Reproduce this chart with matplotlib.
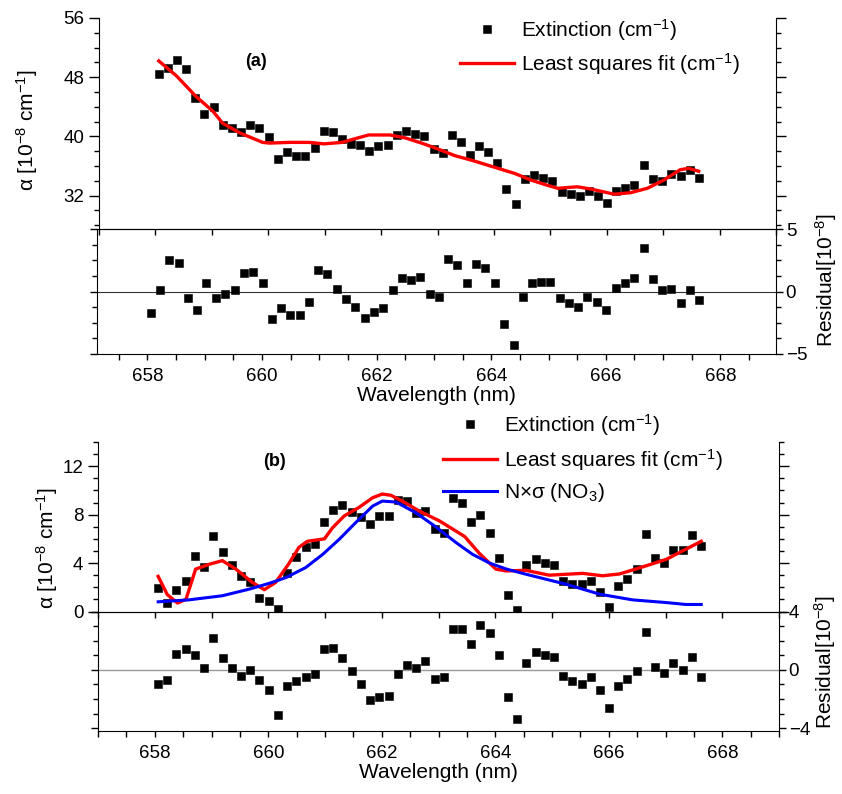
import matplotlib
matplotlib.use('Agg')
import matplotlib.pyplot as plt
from matplotlib.ticker import MultipleLocator

plt.rcParams['font.family'] = ['Liberation Sans', 'DejaVu Sans']
plt.rcParams['mathtext.fontset'] = 'custom'
plt.rcParams['mathtext.rm'] = 'Liberation Sans'
plt.rcParams['mathtext.it'] = 'Liberation Sans:italic'
plt.rcParams['mathtext.bf'] = 'Liberation Sans:bold'

# wavelength grid of the measured points (nm)
wl = [658.06, 658.22, 658.38, 658.55, 658.71, 658.87, 659.03, 659.20, 659.36, 659.52,
      659.68, 659.84, 660.01, 660.17, 660.33, 660.49, 660.66, 660.82, 660.98, 661.14,
      661.30, 661.47, 661.63, 661.79, 661.95, 662.12, 662.28, 662.44, 662.60, 662.76,
      662.93, 663.09, 663.25, 663.41, 663.57, 663.74, 663.90, 664.06, 664.22, 664.39,
      664.55, 664.71, 664.87, 665.03, 665.20, 665.36, 665.52, 665.68, 665.85, 666.01,
      666.17, 666.33, 666.49, 666.66, 666.82, 666.98, 667.14, 667.31, 667.47, 667.63]

# (a)
ext_a = [48.5, 49.2, 50.3, 49.1, 45.2, 43.1, 44.0, 41.6, 41.1, 40.6,
         41.6, 41.1, 39.9, 37.0, 37.9, 37.4, 37.4, 38.4, 40.8, 40.6,
         39.6, 39.0, 38.8, 38.1, 38.7, 38.9, 40.2, 40.8, 40.3, 40.0,
         38.3, 37.7, 40.2, 39.2, 37.5, 38.7, 37.9, 36.4, 32.9, 30.9,
         34.2, 34.8, 34.4, 34.0, 32.5, 32.2, 32.0, 32.7, 32.0, 31.0,
         32.6, 33.1, 33.5, 36.2, 34.2, 34.0, 34.9, 34.6, 35.5, 34.4]
res_a = [-1.7, 0.1, 2.5, 2.3, -0.5, -1.5, 0.7, -0.5, -0.2, 0.1,
         1.5, 1.6, 0.7, -2.2, -1.3, -1.9, -1.9, -0.8, 1.7, 1.4,
         0.2, -0.6, -1.2, -2.1, -1.6, -1.3, 0.1, 1.1, 0.9, 1.2,
         -0.2, -0.4, 2.6, 2.1, 0.7, 2.2, 1.9, 0.7, -2.6, -4.3,
         -0.4, 0.7, 0.8, 0.8, -0.5, -0.9, -1.2, -0.4, -0.8, -1.5,
         0.3, 0.7, 1.1, 3.5, 1.0, 0.1, 0.2, -0.9, 0.1, -0.7]
fit_a_x = [658.06, 658.37, 658.72, 659.02, 659.19, 659.49, 659.9, 660.02, 660.37, 660.72,
           660.99, 661.31, 661.54, 661.78, 662.16, 662.43, 662.72, 663.01, 663.31, 663.6,
           663.9, 664.07, 664.37, 664.66, 664.95, 665.13, 665.48, 665.72, 666.13, 666.42,
           666.72, 667.01, 667.3, 667.45, 667.63]
fit_a_y = [50.2, 48.2, 45.4, 43.4, 41.8, 40.5, 39.2, 39.1, 39.2, 39.2,
           39.0, 39.2, 39.7, 40.2, 40.2, 39.8, 39.1, 38.3, 37.4, 36.8,
           36.1, 35.7, 35.0, 34.1, 33.4, 33.0, 33.2, 32.9, 32.2, 32.4,
           33.0, 34.1, 35.5, 35.7, 35.3]

# (b)
ext_b = [1.9, 0.7, 1.8, 2.5, 4.6, 3.7, 6.2, 4.9, 3.8, 2.9,
         2.4, 1.1, 0.9, 0.2, 3.2, 4.5, 5.3, 5.6, 7.4, 8.4,
         8.8, 8.2, 7.8, 7.2, 7.9, 7.9, 9.2, 9.1, 8.1, 8.3,
         6.8, 6.5, 9.4, 9.0, 7.4, 8.0, 6.5, 4.4, 1.4, 0.1,
         3.8, 4.3, 4.0, 3.8, 2.5, 2.3, 2.3, 2.5, 1.6, 0.4,
         2.1, 2.7, 3.5, 6.4, 4.4, 4.0, 5.1, 5.1, 6.3, 5.4]
res_b = [-1.0, -0.7, 1.1, 1.4, 1.0, 0.1, 2.2, 0.8, 0.1, -0.4,
         0.0, -0.7, -1.4, -3.1, -1.1, -0.8, -0.5, -0.3, 1.4, 1.5,
         0.8, -0.1, -1.0, -2.1, -1.9, -1.8, -0.3, 0.3, 0.1, 0.6,
         -0.6, -0.5, 2.8, 2.8, 1.8, 3.1, 2.5, 1.0, -1.9, -3.4,
         0.5, 1.2, 1.0, 0.9, -0.4, -0.8, -1.0, -0.5, -1.4, -2.6,
         -1.1, -0.6, -0.1, 2.6, 0.2, -0.2, 0.5, 0.0, 0.9, -0.5]
fit_b_x = [658.06, 658.22, 658.4, 658.55, 658.72, 658.96, 659.19, 659.43, 659.72, 659.93,
           660.13, 660.37, 660.54, 660.69, 660.99, 661.13, 661.34, 661.6, 661.84, 662.01,
           662.16, 662.37, 662.66, 663.01, 663.46, 663.72, 664.01, 664.19, 664.54, 664.95,
           665.54, 665.89, 666.19, 666.54, 667.01, 667.3, 667.63]
fit_b_y = [2.9, 1.4, 0.7, 1.0, 3.5, 3.9, 4.2, 3.5, 2.4, 1.8,
           2.4, 4.0, 5.3, 5.8, 6.0, 6.9, 7.9, 8.6, 9.4, 9.7,
           9.6, 9.1, 8.3, 7.5, 6.2, 4.8, 3.5, 3.35, 3.4, 3.0,
           3.15, 2.95, 3.1, 3.6, 4.3, 5.0, 5.8]
no3_x = [658.06, 658.6, 659.19, 659.66, 660.02, 660.31, 660.66, 660.96, 661.25, 661.54,
         661.84, 662.01, 662.25, 662.6, 662.95, 663.31, 663.6, 663.9, 664.2, 664.54,
         665.25, 665.84, 666.42, 667.01, 667.36, 667.63]
no3_y = [0.8, 0.96, 1.3, 1.84, 2.33, 2.8, 3.63, 4.72, 5.96, 7.34,
         8.71, 9.12, 9.04, 8.16, 7.0, 5.69, 4.72, 4.0, 3.5, 3.08,
         2.25, 1.43, 0.96, 0.74, 0.58, 0.58]

W, H = 842, 794
fig = plt.figure(figsize=(W/100, H/100), dpi=100)

def box(l, r, t, b):
    return [l/W, 1 - b/H, (r - l)/W, (b - t)/H]

ms = 6.3
fs = 13.5

def main_style(ax, ymaj, ymin):
    ax.spines['top'].set_visible(False)
    ax.xaxis.set_major_locator(MultipleLocator(1))
    ax.yaxis.set_major_locator(MultipleLocator(ymaj))
    ax.yaxis.set_minor_locator(MultipleLocator(ymin))
    ax.tick_params(which='both', direction='out', left=True, right=True, top=False,
                   bottom=True, labelbottom=False, labelright=False, labelsize=fs)
    ax.tick_params(axis='y', which='major', length=7, width=1)
    ax.tick_params(axis='y', which='minor', length=3.5, width=1)
    ax.tick_params(axis='x', which='major', length=4.5, width=1)
    ax.set_zorder(3)
    ax.patch.set_alpha(0)

def res_style(ax, ymaj, ymin):
    ax.xaxis.set_major_locator(MultipleLocator(2))
    ax.xaxis.set_minor_locator(MultipleLocator(0.5))
    ax.yaxis.set_major_locator(MultipleLocator(ymaj))
    ax.yaxis.set_minor_locator(MultipleLocator(ymin))
    ax.tick_params(which='both', direction='out', left=True, right=True, top=False,
                   bottom=True, labelleft=False, labelright=True, labelsize=fs, pad=2)
    ax.tick_params(axis='y', which='major', length=5, width=1)
    ax.tick_params(axis='y', which='minor', length=3.5, width=1)
    ax.tick_params(axis='x', which='both', length=4, width=1, pad=6)
    ax.set_xlabel('Wavelength (nm)', fontsize=15, labelpad=1)

leg_kw = dict(frameon=False, fontsize=15, borderpad=0, handlelength=2.6,
              handletextpad=0.35, numpoints=1, borderaxespad=0)

# ---- panel (a)
ra = fig.add_axes(box(97, 776, 229, 354))
ra.axhline(0, color='#333333', lw=0.8)
ra.plot(wl, res_a, 's', color='black', ms=ms, mew=0.4)
ra.set_xlim(657.12, 668.97)
ra.set_ylim(-5, 5)
res_style(ra, 5, 1.25)

ma = fig.add_axes(box(99, 776, 18, 229))
ma.plot(wl, ext_a, 's', color='black', ms=ms, mew=0.4, label='Extinction (cm$^{-1}$)')
ma.plot(fit_a_x, fit_a_y, color='#ff0000', lw=2.4, label='Least squares fit (cm$^{-1}$)')
ma.set_xlim(657, 669)
ma.set_ylim(27.5, 56)
main_style(ma, 8, 2)
ma.legend(loc='upper left', bbox_to_anchor=(460/W, 1 - 17/H), bbox_transform=fig.transFigure,
          labelspacing=0.38, **leg_kw)

fig.text(256/W, 1 - 62/H, '(a)', fontsize=13, weight='bold', ha='center', va='center')
fig.text(27/W, 1 - 130/H, 'α [10$^{-8}$ cm$^{-1}$]', rotation=90, fontsize=15,
         ha='center', va='center')
fig.text(826/W, 1 - 280/H, 'Residual[10$^{-8}$]', rotation=90, fontsize=15,
         ha='center', va='center')

# ---- panel (b)
rb = fig.add_axes(box(98, 779, 611.5, 731))
rb.axhline(0, color='#999999', lw=1)
rb.plot(wl, res_b, 's', color='black', ms=ms, mew=0.4)
rb.set_xlim(657, 669)
rb.set_ylim(-4.2, 4)
res_style(rb, 4, 1)

mb = fig.add_axes(box(98, 779, 442, 611.5))
mb.plot(wl, ext_b, 's', color='black', ms=ms, mew=0.4, label='Extinction (cm$^{-1}$)')
mb.plot(fit_b_x, fit_b_y, color='#ff0000', lw=2.4, label='Least squares fit (cm$^{-1}$)')
mb.plot(no3_x, no3_y, color='#0000ff', lw=2.2, label='N×σ (NO$_3$)')
mb.set_xlim(657, 669)
mb.set_ylim(0, 14)
main_style(mb, 4, 1)
fig.legend(*mb.get_legend_handles_labels(), loc='upper left',
           bbox_to_anchor=(443/W, 1 - 412/H), labelspacing=0.42, **leg_kw)

fig.text(275/W, 1 - 462/H, '(b)', fontsize=13, weight='bold', ha='center', va='center')
fig.text(47/W, 1 - 548/H, 'α [10$^{-8}$ cm$^{-1}$]', rotation=90, fontsize=15,
         ha='center', va='center')
fig.text(825/W, 1 - 662/H, 'Residual[10$^{-8}$]', rotation=90, fontsize=15,
         ha='center', va='center')

fig.savefig('out.png', dpi=100)
